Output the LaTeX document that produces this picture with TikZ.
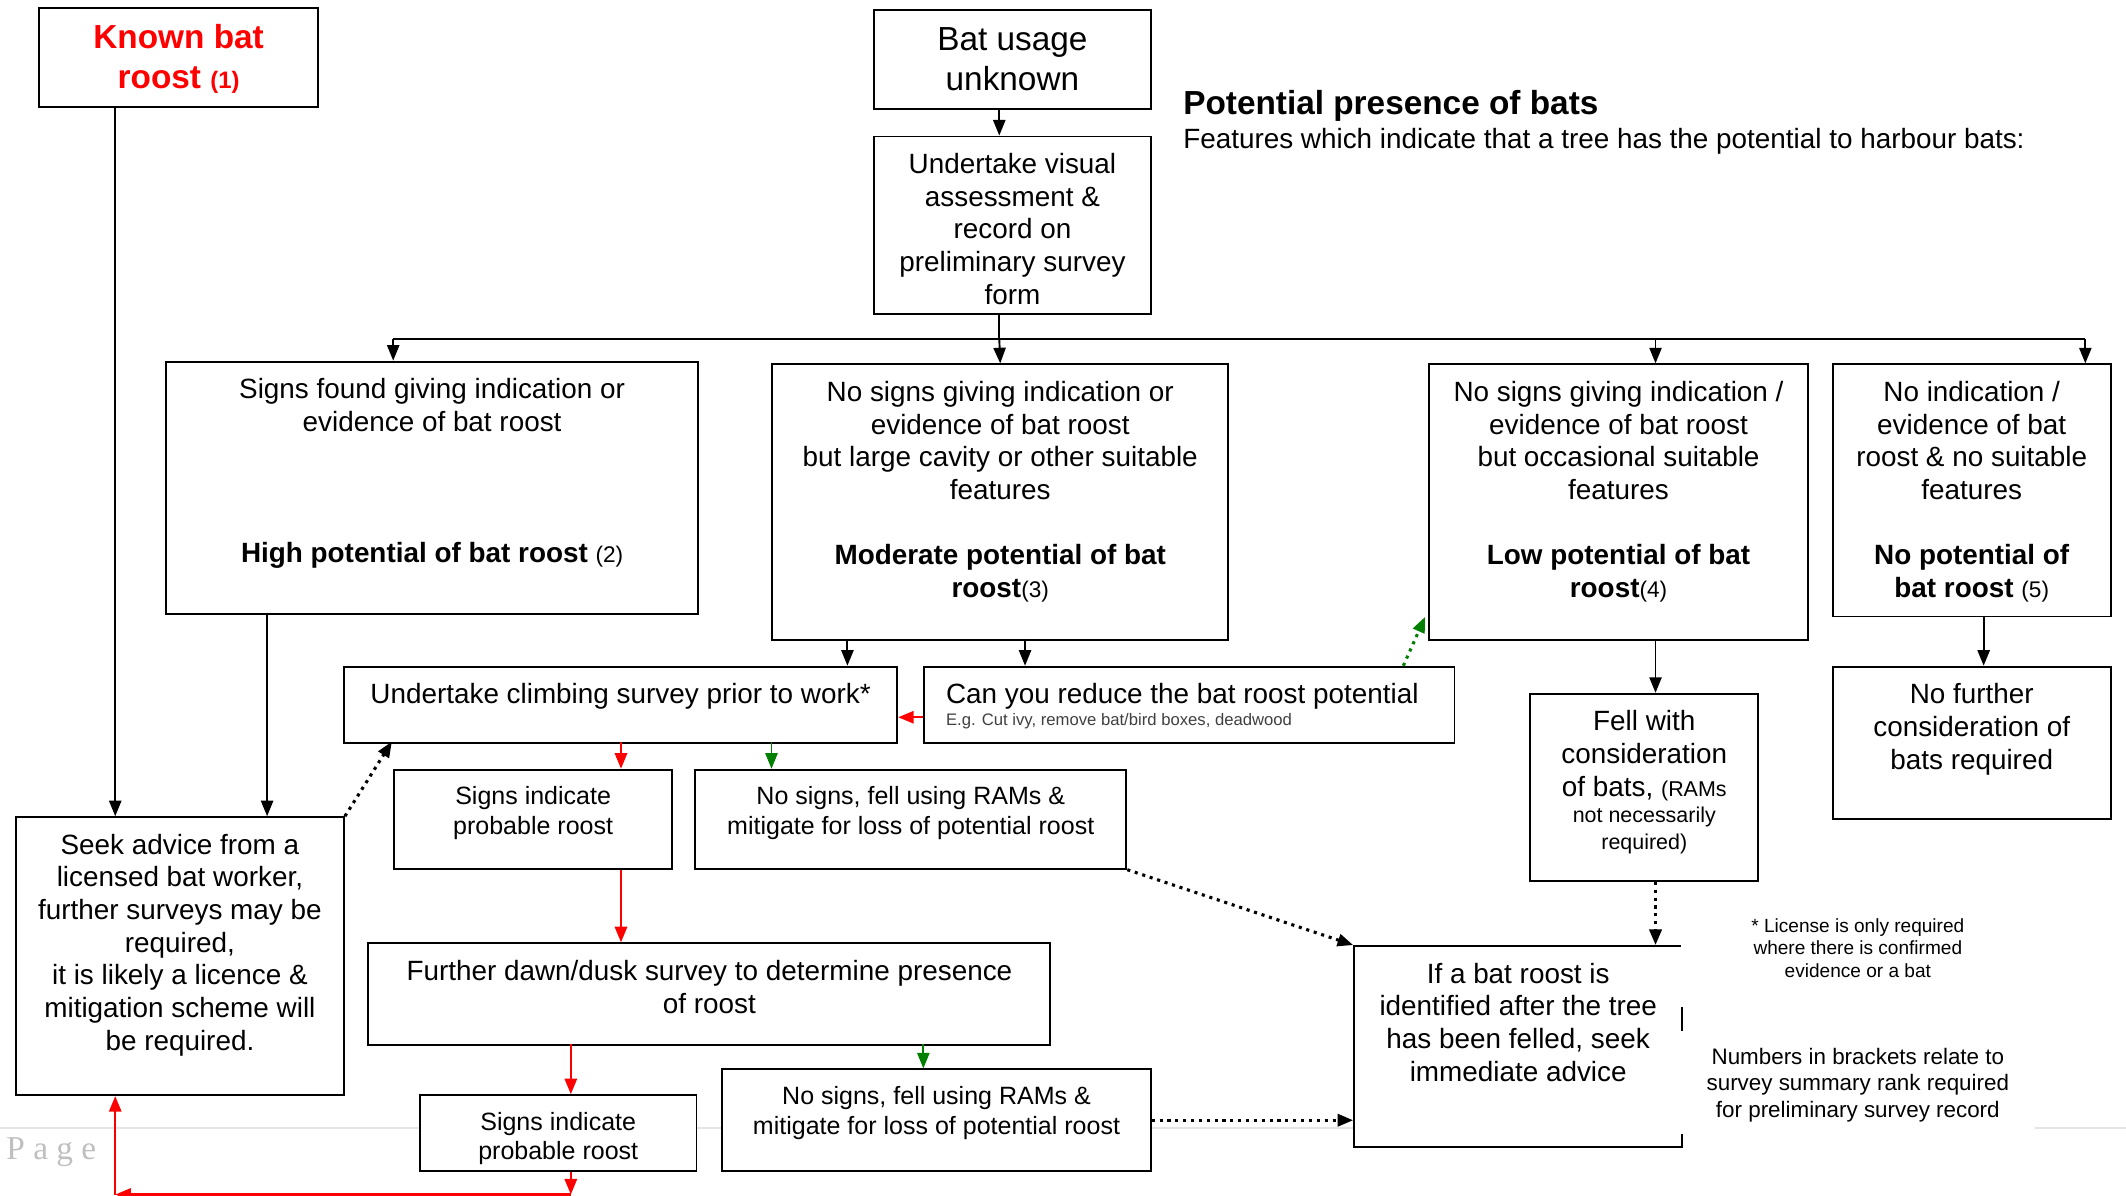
\documentclass[tikz,border=0pt]{standalone}
\usepackage{fontspec}
\setmainfont{Liberation Sans}
\newfontfamily\pagefont{Liberation Serif}
\usetikzlibrary{arrows.meta}

\begin{document}
\begin{tikzpicture}[x=0.02cm, y=-0.02cm, line width=0.8pt,
	>={Triangle[length=0.23cm, width=0.18cm]},
	box/.style 2 args={draw, fill=white, anchor=north west, inner sep=0pt,
		minimum width=#1*0.02cm, minimum height=#2*0.02cm},
	note/.style 2 args={box={#1}{#2}, draw=none},
	txt/.style={anchor=north, yshift=-0.25cm, align=center, inner sep=0pt,
		font=\fontsize{11.7}{13.7}\selectfont},
	bigtxt/.style={txt, font=\fontsize{14}{16.8}\selectfont},
	smalltxt/.style={txt, font=\fontsize{10.5}{12.5}\selectfont},
	dots/.style={line width=1.3pt, dotted},
	redarrow/.style={red, line width=1pt, ->},
	greenarrow/.style={green!50!black, ->},
]
\useasboundingbox (0,0) rectangle (1568,882);

\draw[gray!20, line width=0.6pt] (0,832) -- (1568,832);
\node[anchor=west, inner sep=0pt, text=gray!50, font=\pagefont\fontsize{14}{16}\selectfont] (page) at (4,850) {P a g e};

\node[box={206}{73}, label={[bigtxt, text=red, font=\bfseries\fontsize{14}{16.8}\selectfont]north:{Known bat\\roost {\fontsize{10}{12}\selectfont(1)}}}] (known) at (28,5) {};
\node[box={204}{73}, label={[bigtxt]north:{Bat usage\\unknown}}] (usage) at (644,7) {};
\node[box={204}{131}, label={[txt]north:{Undertake visual\\assessment \&\\record on\\preliminary survey\\form}}] (visual) at (644,100) {};

\node[anchor=west, inner sep=0pt, font=\bfseries\fontsize{14}{16}\selectfont] (title) at (872,78) {Potential presence of bats};
\node[anchor=west, inner sep=0pt, font=\fontsize{11.7}{13.7}\selectfont] (subtitle) at (872,104) {Features which indicate that a tree has the potential to harbour bats:};

\node[box={392}{186}, label={[txt]north:{Signs found giving indication or\\evidence of bat roost\\[1.46cm]\textbf{High potential of bat roost} {\fontsize{9.5}{11}\selectfont(2)}}}] (high) at (122,266) {};
\node[box={336}{203}, label={[txt]north:{No signs giving indication or\\evidence of bat roost\\but large cavity or other suitable\\features\\[0.48cm]\textbf{Moderate potential of bat}\\\textbf{roost}{\fontsize{9.5}{11}\selectfont(3)}}}] (moder) at (569,268) {};
\node[box={280}{203}, label={[txt]north:{No signs giving indication /\\evidence of bat roost\\but occasional suitable\\features\\[0.48cm]\textbf{Low potential of bat}\\\textbf{roost}{\fontsize{9.5}{11}\selectfont(4)}}}] (low) at (1053,268) {};
\node[box={205}{186}, label={[txt]north:{No indication /\\evidence of bat\\roost \& no suitable\\features\\[0.48cm]\textbf{No potential of}\\\textbf{bat roost} {\fontsize{9.5}{11}\selectfont(5)}}}] (nopot) at (1351,268) {};

\node[box={408}{56}, label={[txt]north:{Undertake climbing survey prior to work*}}] (climb) at (253,491) {};
\node[box={391}{56}, label={[txt, anchor=north west, xshift=0.32cm, align=left]north west:{Can you reduce the bat roost potential\\[-4.5pt]{\fontsize{7}{8}\selectfont\color{black!75}E.g. Cut ivy, remove bat/bird boxes, deadwood}}}] (reduce) at (681,491) {};
\node[box={168}{138}, label={[txt]north:{Fell with\\consideration\\of bats, {\fontsize{9}{11}\selectfont(RAMs}\\[-2.5pt]{\fontsize{9}{11}\selectfont not necessarily}\\[-2.5pt]{\fontsize{9}{11}\selectfont required)}}}] (fell) at (1128,511) {};
\node[box={205}{112}, label={[txt]north:{No further\\consideration of\\bats required}}] (nofurther) at (1351,491) {};

\node[box={242}{205}, label={[txt]north:{Seek advice from a\\licensed bat worker,\\further surveys may be\\required,\\it is likely a licence \&\\mitigation scheme will\\be required.}}] (seek) at (11,602) {};
\node[box={205}{73}, label={[smalltxt]north:{Signs indicate\\probable roost}}] (sp1) at (290,567) {};
\node[box={318}{73}, label={[smalltxt]north:{No signs, fell using RAMs \&\\mitigate for loss of potential roost}}] (ns1) at (512,567) {};
\node[box={503}{75}, label={[txt]north:{Further dawn/dusk survey to determine presence\\of roost}}] (dawn) at (271,695) {};
\node[box={204}{56}, label={[smalltxt]north:{Signs indicate\\probable roost}}] (sp2) at (309,807) {};
\node[box={316}{75}, label={[smalltxt]north:{No signs, fell using RAMs \&\\mitigate for loss of potential roost}}] (ns2) at (532,788) {};

\node[box={242}{148}, label={[txt]north:{If a bat roost is\\identified after the tree\\has been felled, seek\\immediate advice}}] (ifbat) at (998,697) {};
\node[note={261}{74}, label={[txt, yshift=0.08cm, font=\fontsize{8}{9.6}\selectfont]north:{* License is only required\\where there is confirmed\\evidence or a bat}}] (licence) at (1239,668) {};
\node[note={261}{76}, label={[txt, font=\fontsize{9.4}{11}\selectfont]north:{Numbers in brackets relate to\\survey summary rank required\\for preliminary survey record}}] (numbers) at (1239,760) {};

\coordinate (bar-l) at (290,250);
\coordinate (bar-m) at (737,250);
\coordinate (bar-low) at (1221,250);
\coordinate (bar-r) at (1538,250);

\draw[->] (usage.south -| bar-m) -- (visual.north -| bar-m);
\draw (visual.south -| bar-m) -- (bar-m);
\draw[line width=1.2pt] (bar-l) -- (bar-r);
\draw[->] (bar-l) -- (bar-l |- high.north);
\draw[->] (bar-m) -- (moder.north);
\draw[->] (bar-low) -- (bar-low |- low.north);
\draw[->] (bar-r) -- (bar-r |- nopot.north);

\coordinate (known-out) at (85,78);
\coordinate (high-out) at (197,452);
\draw[->] (known-out) -- (known-out |- seek.north);
\draw[->] (high-out) -- (high-out |- seek.north);

\coordinate (moder-a) at (625,471);
\coordinate (moder-b) at (756,471);
\draw[->] (moder-a) -- (moder-a |- climb.north);
\draw[->] (moder-b) -- (moder-b |- reduce.north);

\draw[->] (bar-low |- low.south) -- (bar-low |- fell.north);
\draw[dots, ->] (bar-low |- fell.south) -- (bar-low |- ifbat.north);

\coordinate (nopot-out) at (1463,454);
\draw[->] (nopot-out) -- (nopot-out |- nofurther.north);

\coordinate (reduce-out) at (681,529);
\draw[redarrow] (reduce-out) -- (reduce-out -| climb.east);
\coordinate (reduce-up) at (1035,491);
\coordinate (low-in) at (1051,455);
\draw[dots, green!50!black, ->] (reduce-up) -- (low-in);

\coordinate (climb-r) at (458,547);
\coordinate (climb-g) at (569,547);
\draw[redarrow] (climb-r) -- (climb-r |- sp1.north);
\draw[greenarrow] (climb-g) -- (climb-g |- ns1.north);
\draw[redarrow] (climb-r |- sp1.south) -- (climb-r |- dawn.north);

\coordinate (dawn-r) at (421,770);
\coordinate (dawn-g) at (681,770);
\draw[redarrow] (dawn-r) -- (dawn-r |- sp2.north);
\draw[greenarrow] (dawn-g) -- (dawn-g |- ns2.north);

\coordinate (red-corner) at (85,881);
\draw[redarrow] (dawn-r |- sp2.south) -- (dawn-r |- red-corner);
\draw[redarrow] (dawn-r |- red-corner) -- (red-corner);
\draw[redarrow] (red-corner) -- (red-corner |- seek.south);

\coordinate (climb-in) at (289,547);
\draw[dots, ->] (seek.north east) -- (climb-in);
\draw[dots, ->] (ns1.south east) -- (ifbat.north west);
\draw[dots, ->] (ns2.east) -- (ns2.east -| ifbat.west);

\end{tikzpicture}
\end{document}
